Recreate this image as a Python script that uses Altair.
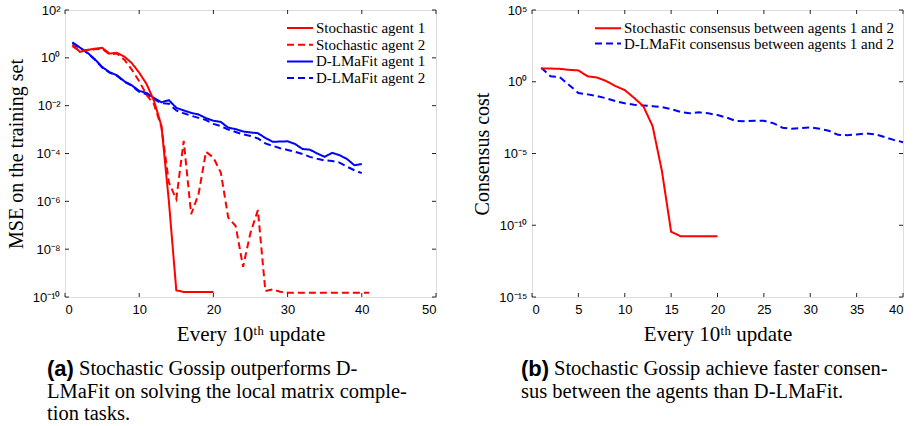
import altair as alt
import pandas as pd

# ---------------- data (y given as log10 of the value) ----------------
iters_sto1 = list(range(1, 21))
sto_agent1_log10 = [0.56, 0.25, 0.33, 0.38, 0.42, 0.18, 0.21, 0.05, -0.22, -0.62,
                    -1.1, -1.8, -2.85, -6.0, -9.72, -9.79, -9.79, -9.79, -9.79, -9.79]

iters_sto2 = list(range(1, 42))
sto_agent2_log10 = [0.49, 0.28, 0.33, 0.36, 0.38, 0.15, 0.18, -0.08, -0.49, -0.98,
                    -1.55, -1.95, -2.9, -5.21, -5.91, -3.47, -6.54, -5.7, -3.93, -4.17,
                    -4.8, -6.68, -7.03, -8.74, -7.31, -6.37, -9.75, -9.68, -9.78, -9.82,
                    -9.82, -9.82, -9.82, -9.82, -9.82, -9.82, -9.82, -9.82, -9.82, -9.82, -9.82]

iters_dlm = list(range(1, 41))
dlm_agent1_log10 = [0.65, 0.43, 0.22, -0.05, -0.38, -0.6, -0.73, -0.98, -1.15, -1.38,
                    -1.47, -1.68, -1.86, -1.77, -2.09, -2.2, -2.3, -2.37, -2.52, -2.63,
                    -2.68, -2.92, -2.98, -3.08, -3.12, -3.15, -3.35, -3.51, -3.5, -3.49,
                    -3.6, -3.81, -3.84, -4.0, -4.14, -3.97, -4.07, -4.23, -4.49, -4.44]
dlm_agent2_log10 = [0.62, 0.42, 0.2, -0.07, -0.4, -0.62, -0.75, -1.0, -1.17, -1.42,
                    -1.52, -1.72, -1.9, -1.92, -2.2, -2.32, -2.42, -2.51, -2.6, -2.76,
                    -2.85, -3.0, -3.1, -3.2, -3.27, -3.37, -3.58, -3.68, -3.78, -3.85,
                    -3.93, -4.02, -4.14, -4.22, -4.29, -4.31, -4.38, -4.55, -4.7, -4.82]

iters_cons_sto = list(range(1, 21))
cons_sto_log10 = [0.93, 0.92, 0.9, 0.83, 0.79, 0.38, 0.3, 0.05, -0.3, -0.58,
                  -1.12, -1.7, -3.09, -6.2, -10.45, -10.76, -10.76, -10.76, -10.76, -10.76]
iters_cons_dlm = list(range(1, 41))
cons_dlm_log10 = [0.98, 0.38, 0.32, -0.23, -0.78, -0.88, -1.0, -1.15, -1.35, -1.5,
                  -1.6, -1.65, -1.7, -1.76, -1.9, -2.1, -2.2, -2.13, -2.2, -2.32,
                  -2.5, -2.74, -2.75, -2.72, -2.72, -2.88, -3.2, -3.28, -3.22, -3.18,
                  -3.27, -3.42, -3.7, -3.72, -3.67, -3.6, -3.66, -3.85, -4.05, -4.21]

left_series = ["Stochastic agent 1", "Stochastic agent 2", "D-LMaFit agent 1", "D-LMaFit agent 2"]
right_series = ["Stochastic consensus between agents 1 and 2", "D-LMaFit consensus between agents 1 and 2"]

left_xticks = [0, 10, 20, 30, 40, 50]
left_yticks_exp = [-10, -8, -6, -4, -2, 0, 2]
right_xticks = [0, 5, 10, 15, 20, 25, 30, 35, 40]
right_yticks_exp = [-15, -10, -5, 0, 5]

caption_a = ["Stochastic Gossip outperforms D-", "LMaFit on solving the local matrix comple-", "tion tasks."]
caption_b = ["Stochastic Gossip achieve faster consen-", "sus between the agents than D-LMaFit."]

# ---------------- styling ----------------
W, H = 371, 287
RED, BLUE = "#ff0000", "#0000ff"
SOLID, DASH = [1, 0], [7, 4]
AX = "#262626"
SERIF = "Liberation Serif"
SANS = "Liberation Sans"
SUP = str.maketrans("0123456789-", "⁰¹²³⁴⁵⁶⁷⁸⁹⁻")


def frame(x, y, series, key):
    return pd.DataFrame({"x": x, "v": [10.0 ** e for e in y], key: series})


def label_expr(exps):
    parts = [f"round(log(datum.value)/LN10) == {e} ? '10{str(e).translate(SUP)}'" for e in exps]
    return " : ".join(parts) + " : ''"


def text_layer(txt, x, y, size=20.5, weight="normal", font=SERIF):
    return alt.Chart(pd.DataFrame({"t": [txt]})).mark_text(
        align="left", baseline="middle", font=font, fontSize=size, fontWeight=weight, color="black"
    ).encode(text="t:N", x=alt.value(x), y=alt.value(y))


def panel(df, key, order, colors, dashes, xdom, xticks, yexps, ytitle, legx, legy, legdy,
          tag, caption, tagw):
    xscale = alt.Scale(domain=xdom, nice=False, zero=False)
    yscale = alt.Scale(type="log", domain=[10.0 ** yexps[0], 10.0 ** yexps[-1]], nice=False)
    xaxis = alt.Axis(values=xticks, tickSize=0, domain=False, grid=False, labelFont=SANS,
                     labelFontSize=13, labelColor="black", labelPadding=6,
                     title="Every 10ᵗʰ update", titleFont=SERIF, titleFontSize=21,
                     titleFontWeight="normal", titleColor="black", titlePadding=7)
    yaxis = alt.Axis(values=[10.0 ** e for e in yexps], labelExpr=label_expr(yexps),
                     tickSize=0, domain=False, grid=False, labelFont=SANS, labelFontSize=13,
                     labelColor="black", labelPadding=5, title=ytitle, titleFont=SERIF,
                     titleFontSize=20, titleFontWeight="normal", titleColor="black",
                     titlePadding=6)
    cscale = alt.Scale(domain=order, range=colors)
    dscale = alt.Scale(domain=order, range=dashes)
    lines = alt.Chart(df).mark_line(strokeWidth=2).encode(
        x=alt.X("x:Q", scale=xscale, axis=xaxis),
        y=alt.Y("v:Q", scale=yscale, axis=yaxis),
        color=alt.Color(f"{key}:N", scale=cscale, legend=None),
        strokeDash=alt.StrokeDash(f"{key}:N", scale=dscale, legend=None),
    )
    ydf = pd.DataFrame({"v": [10.0 ** e for e in yexps]})
    xdf = pd.DataFrame({"x": xticks})
    tl = alt.Chart(ydf).mark_rule(color=AX, strokeWidth=1).encode(
        y=alt.Y("v:Q", scale=yscale, axis=yaxis), x=alt.value(0), x2=alt.value(4))
    tr = alt.Chart(ydf).mark_rule(color=AX, strokeWidth=1).encode(
        y=alt.Y("v:Q", scale=yscale, axis=yaxis), x=alt.value(W - 4), x2=alt.value(W))
    tb = alt.Chart(xdf).mark_rule(color=AX, strokeWidth=1).encode(
        x=alt.X("x:Q", scale=xscale, axis=xaxis), y=alt.value(H - 4), y2=alt.value(H))
    tt = alt.Chart(xdf).mark_rule(color=AX, strokeWidth=1).encode(
        x=alt.X("x:Q", scale=xscale, axis=xaxis), y=alt.value(0), y2=alt.value(4))
    caps = [text_layer(tag, tagw[0], 359, size=22, weight="bold", font=SANS),
            text_layer(caption[0], tagw[1], 359)]
    for i, line in enumerate(caption[1:]):
        caps.append(text_layer(line, tagw[0], 382 + 22 * i))
    plot = alt.layer(lines, tl, tr, tb, tt, *caps)

    # legend drawn from the series list (rows placed on their own scale)
    n = len(order)
    leg_df = pd.DataFrame({key: order, "row": list(range(n))})
    ly = alt.Y("row:Q", scale=alt.Scale(domain=[0, n - 1], range=[legy, legy + (n - 1) * legdy]),
               axis=None)
    leg_sym = alt.Chart(leg_df).mark_rule(strokeWidth=2).encode(
        x=alt.value(legx), x2=alt.value(legx + 26), y=ly,
        color=alt.Color(f"{key}:N", scale=cscale, legend=None),
        strokeDash=alt.StrokeDash(f"{key}:N", scale=dscale, legend=None))
    leg_txt = alt.Chart(leg_df).mark_text(align="left", baseline="middle", font=SERIF,
                                          fontSize=15, color="black").encode(
        x=alt.value(legx + 29), y=ly, text=f"{key}:N")
    legend = alt.layer(leg_sym, leg_txt)
    return alt.layer(plot, legend).resolve_scale(y="independent").properties(width=W, height=H)


df_left = pd.concat([
    frame(iters_dlm, dlm_agent1_log10, left_series[2], "series_a"),
    frame(iters_dlm, dlm_agent2_log10, left_series[3], "series_a"),
    frame(iters_sto1, sto_agent1_log10, left_series[0], "series_a"),
    frame(iters_sto2, sto_agent2_log10, left_series[1], "series_a"),
])
df_right = pd.concat([
    frame(iters_cons_dlm, cons_dlm_log10, right_series[1], "series_b"),
    frame(iters_cons_sto, cons_sto_log10, right_series[0], "series_b"),
])

left = panel(df_left, "series_a", left_series, [RED, RED, BLUE, BLUE], [SOLID, DASH, SOLID, DASH],
             [0, 50], left_xticks, left_yticks_exp, "MSE on the training set", 222, 18, 16.7,
             "(a)", caption_a, (-18, 14))
right = panel(df_right, "series_b", right_series, [RED, BLUE], [SOLID, DASH],
              [0, 40], right_xticks, right_yticks_exp, "Consensus cost", 63, 18.3, 15.3,
              "(b)", caption_b, (-11, 22))

chart = alt.hconcat(left, right, spacing=35).resolve_scale(
    color="independent", strokeDash="independent", x="independent", y="independent"
).properties(
    padding={"left": 5, "top": 3, "right": 5, "bottom": 5}
).configure_view(stroke=AX, strokeWidth=1).configure(background="white")

chart.save("out.html", embed_options={"renderer": "svg", "actions": False})
